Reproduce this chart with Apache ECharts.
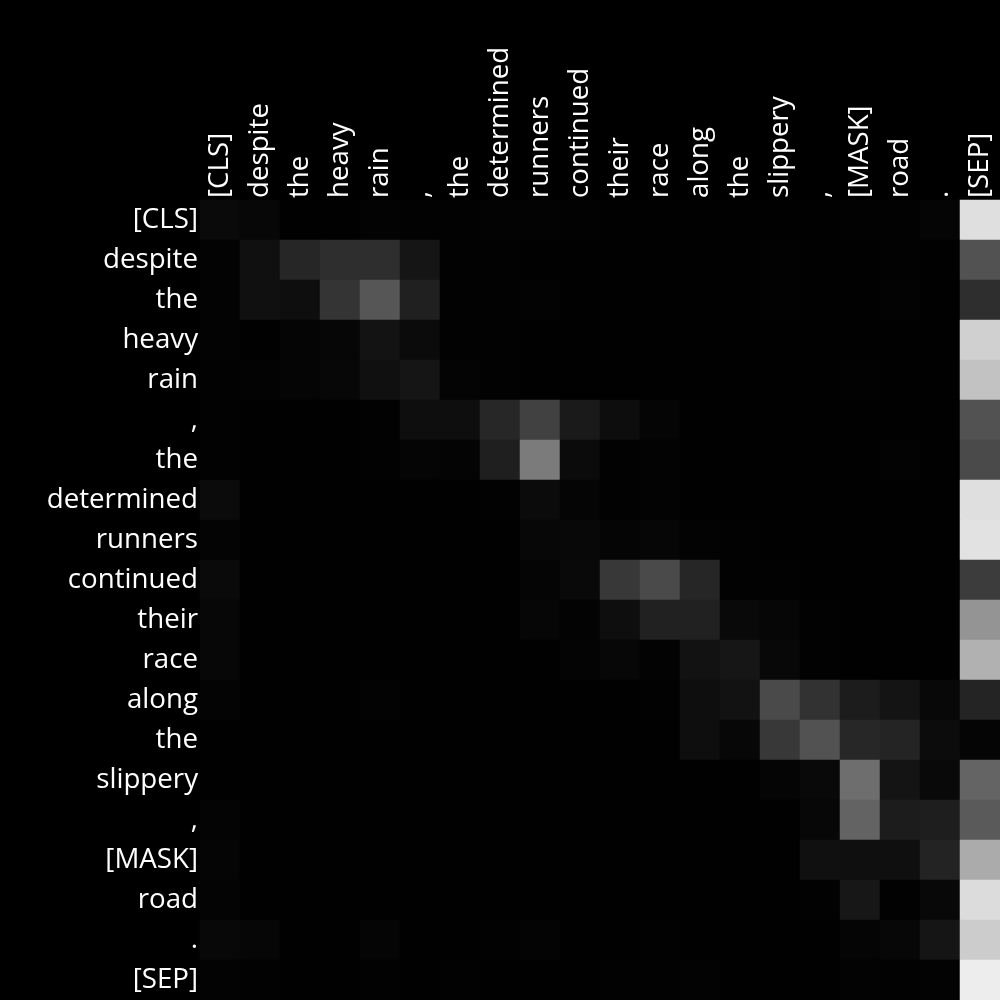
<!DOCTYPE html>
<html>
<head>
<meta charset="utf-8">
<script src="https://cdn.jsdelivr.net/npm/echarts@6/dist/echarts.min.js"></script>
<style>
html,body{margin:0;padding:0;background:#000;}
#chart{width:1000px;height:1000px;}
</style>
</head>
<body>
<div id="chart"></div>
<script>
// Tokens (rows = query, columns = key)
const tokens = ['[CLS]','despite','the','heavy','rain',',','the','determined','runners','continued','their','race','along','the','slippery',',','[MASK]','road','.','[SEP]'];

// Attention weights (0..1)
const attention = [
  [0.039,0.027,0.004,0.004,0.012,0.008,0.008,0.012,0.012,0.008, 0.004,0.004,0.004,0.004,0.004,0.004,0.008,0.008,0.020,0.875],
  [0.012,0.063,0.149,0.180,0.180,0.082,0.008,0.008,0.004,0.004, 0.004,0.004,0.004,0.004,0.008,0.004,0.004,0.008,0.004,0.322],
  [0.012,0.063,0.055,0.204,0.337,0.125,0.008,0.008,0.012,0.004, 0.004,0.004,0.004,0.004,0.008,0.004,0.004,0.012,0.004,0.180],
  [0.012,0.004,0.020,0.024,0.075,0.043,0.008,0.008,0.004,0.004, 0.004,0.004,0.004,0.004,0.004,0.004,0.004,0.004,0.004,0.816],
  [0.008,0.012,0.020,0.027,0.063,0.082,0.016,0.008,0.004,0.004, 0.004,0.004,0.004,0.004,0.004,0.004,0.008,0.004,0.004,0.761],
  [0.008,0.004,0.004,0.004,0.008,0.055,0.055,0.153,0.255,0.102, 0.051,0.020,0.004,0.004,0.004,0.004,0.004,0.004,0.004,0.322],
  [0.008,0.004,0.004,0.004,0.008,0.020,0.016,0.122,0.482,0.043, 0.008,0.012,0.004,0.004,0.004,0.004,0.004,0.012,0.004,0.290],
  [0.043,0.004,0.004,0.004,0.004,0.004,0.004,0.008,0.043,0.020, 0.008,0.012,0.004,0.004,0.004,0.004,0.004,0.004,0.004,0.875],
  [0.016,0.004,0.004,0.004,0.004,0.004,0.004,0.004,0.027,0.031, 0.020,0.024,0.012,0.008,0.004,0.004,0.004,0.004,0.004,0.886],
  [0.039,0.004,0.004,0.004,0.004,0.004,0.004,0.004,0.020,0.035, 0.220,0.290,0.149,0.008,0.008,0.004,0.004,0.004,0.004,0.235],
  [0.027,0.004,0.004,0.004,0.004,0.004,0.004,0.004,0.024,0.012, 0.055,0.129,0.129,0.035,0.024,0.008,0.004,0.004,0.004,0.580],
  [0.027,0.004,0.004,0.004,0.004,0.004,0.004,0.004,0.004,0.016, 0.027,0.012,0.071,0.086,0.031,0.008,0.004,0.004,0.004,0.694],
  [0.016,0.004,0.004,0.004,0.012,0.004,0.004,0.004,0.004,0.004, 0.004,0.008,0.055,0.071,0.290,0.196,0.110,0.078,0.031,0.141],
  [0.004,0.004,0.004,0.004,0.004,0.004,0.004,0.004,0.004,0.004, 0.004,0.004,0.055,0.027,0.220,0.322,0.153,0.141,0.047,0.020],
  [0.004,0.004,0.004,0.004,0.004,0.004,0.004,0.004,0.004,0.004, 0.004,0.004,0.004,0.004,0.020,0.035,0.431,0.078,0.035,0.392],
  [0.016,0.004,0.004,0.004,0.004,0.004,0.004,0.004,0.004,0.004, 0.004,0.004,0.004,0.004,0.004,0.027,0.388,0.110,0.118,0.353],
  [0.020,0.004,0.004,0.004,0.004,0.004,0.004,0.004,0.004,0.004, 0.004,0.004,0.004,0.004,0.004,0.063,0.059,0.059,0.137,0.671],
  [0.016,0.004,0.004,0.004,0.004,0.004,0.004,0.004,0.004,0.004, 0.004,0.004,0.004,0.004,0.004,0.008,0.090,0.008,0.031,0.863],
  [0.031,0.024,0.004,0.004,0.020,0.004,0.004,0.008,0.016,0.004, 0.004,0.008,0.004,0.004,0.004,0.004,0.020,0.027,0.082,0.800],
  [0.012,0.008,0.004,0.004,0.008,0.004,0.008,0.004,0.004,0.004, 0.008,0.008,0.012,0.004,0.004,0.004,0.012,0.008,0.012,0.929]
];

const cells = [];
attention.forEach((row, r) => row.forEach((v, c) => cells.push([c, r, v])));

const chart = echarts.init(document.getElementById('chart'), null, {renderer: 'canvas'});
const labelFont = {color: '#ffffff', fontSize: 27.7, fontFamily: 'Open Sans'};
chart.setOption({
  backgroundColor: '#000000',
  animation: false,
  grid: {left: 200, top: 200, right: 0, bottom: 0, containLabel: false},
  xAxis: {
    type: 'category', data: tokens, position: 'top',
    axisLine: {show: false}, axisTick: {show: false}, splitLine: {show: false},
    axisLabel: Object.assign({rotate: -90, interval: 0, margin: 2}, labelFont)
  },
  yAxis: {
    type: 'category', data: tokens, inverse: true,
    axisLine: {show: false}, axisTick: {show: false}, splitLine: {show: false},
    axisLabel: Object.assign({interval: 0, margin: 2}, labelFont)
  },
  visualMap: {
    show: false, min: 0, max: 1, dimension: 2,
    inRange: {color: ['#000000', '#ffffff']}
  },
  series: [{
    type: 'heatmap', data: cells,
    itemStyle: {borderWidth: 0},
    emphasis: {disabled: true}
  }]
});
</script>
</body>
</html>
